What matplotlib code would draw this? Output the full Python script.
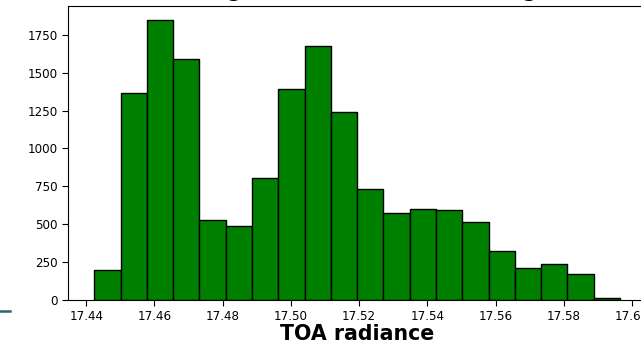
import numpy as np
import matplotlib.pyplot as plt
from matplotlib.lines import Line2D

# histogram counts per bin (20 equal bins)
counts = [198, 1363, 1847, 1588, 526, 488, 805, 1394, 1675, 1242,
          730, 576, 600, 592, 515, 321, 209, 235, 171, 15]
bin_lo, bin_hi = 17.44235, 17.5965
xticks = [17.44, 17.46, 17.48, 17.50, 17.52, 17.54, 17.56, 17.58, 17.60]
yticks = [0, 250, 500, 750, 1000, 1250, 1500, 1750]

edges = np.linspace(bin_lo, bin_hi, len(counts) + 1)
centers = (edges[:-1] + edges[1:]) / 2

fig = plt.figure(figsize=(6.41, 3.45), dpi=100)
ax = fig.add_axes([0.1061, 0.1304, 0.9022, 0.8522])
ax.hist(centers, bins=edges, weights=counts, color='green', edgecolor='black', linewidth=1.0)

ax.set_xticks(xticks)
ax.set_xticklabels(['%.2f' % t for t in xticks])
ax.set_yticks(yticks)
ax.tick_params(labelsize=8.6, length=4)
ax.set_xlabel('TOA radiance', fontsize=14.8, fontweight='bold', labelpad=0.5)
ax.set_title('Histogram of TOA radiance (avg)', fontsize=14.8, fontweight='bold', pad=6.5)

# stray legend stub at lower left
fig.add_artist(Line2D([0, 10 / 641], [1 - 311 / 345] * 2, color='#2e6276', linewidth=1.8))

fig.savefig('out.png', dpi=100)
